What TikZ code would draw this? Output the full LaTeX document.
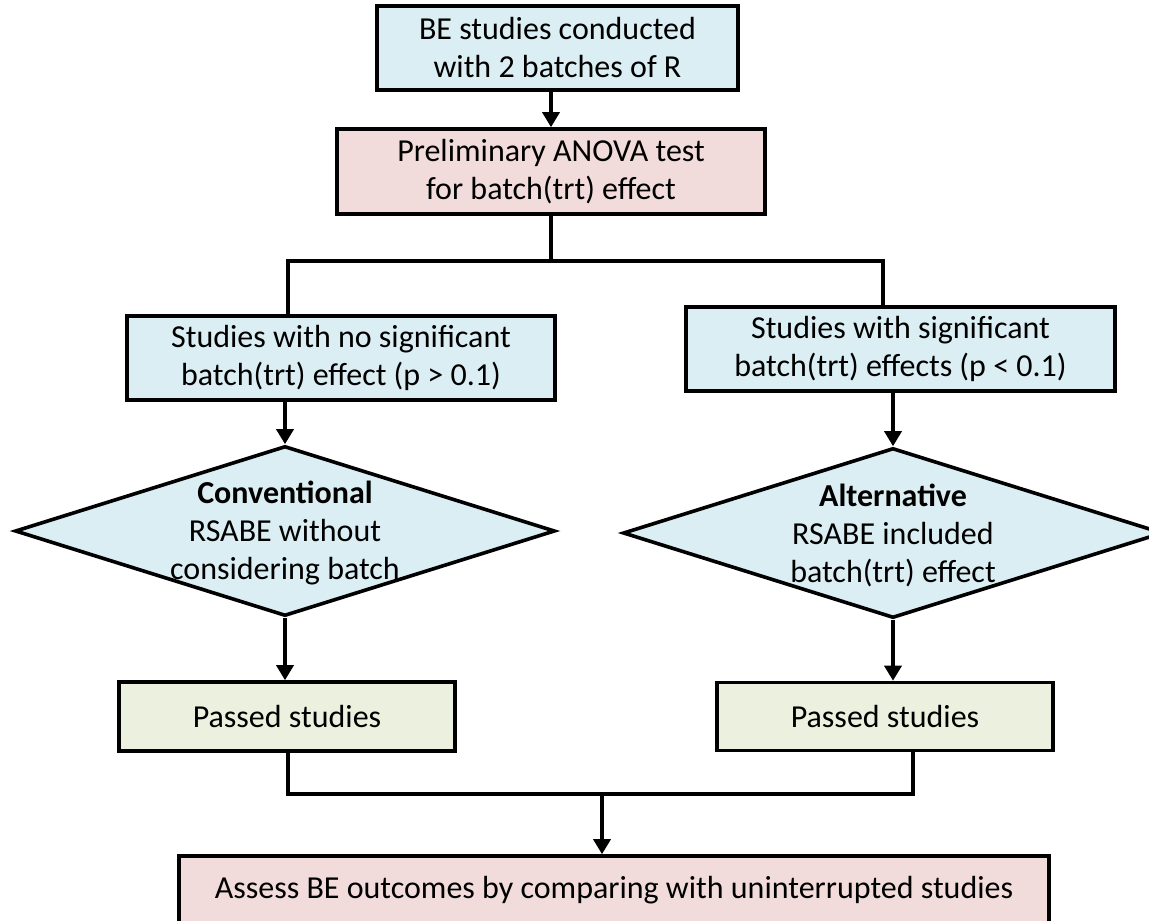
\documentclass[tikz,border=0pt]{standalone}
\usepackage{fontspec}
\setmainfont{Carlito}
\usetikzlibrary{arrows.meta,shapes.geometric}
\definecolor{beblue}{HTML}{DAEEF3}
\definecolor{bepink}{HTML}{F2DCDB}
\definecolor{begreen}{HTML}{EBF1DE}
\begin{document}
\begin{tikzpicture}[x=1pt, y=-1pt,
	box/.style={draw=black, line width=3.6pt, rectangle, inner sep=0pt, align=center, font=\fontsize{32}{38}\selectfont},
	dia/.style={draw=black, line width=3.6pt, diamond, fill=beblue, inner sep=0pt, minimum width=540pt, minimum height=170pt},
	diatext/.style={align=center, inner sep=0pt, font=\fontsize{32}{38}\selectfont},
	flow/.style={black, line width=3.4pt},
	flowarr/.style={flow, -{Triangle[width=17pt,length=15pt]}}]
\useasboundingbox (0,0) rectangle (1149,921);
\node[box, fill=beblue, minimum width=361pt, minimum height=84pt] (start) at (557.5,48) {BE studies conducted\\with 2 batches of R};
\node[box, fill=bepink, minimum width=428pt, minimum height=85pt] (anova) at (551,171.5) {Preliminary ANOVA test\\for batch(trt) effect};
\node[box, fill=beblue, minimum width=428pt, minimum height=84pt] (nosig) at (341,358) {Studies with no significant\\batch(trt) effect (p > 0.1)};
\node[box, fill=beblue, minimum width=429pt, minimum height=84pt] (sig) at (900.5,349) {Studies with significant\\batch(trt) effects (p < 0.1)};
\node[dia] (conv) at (285,531) {};
\node[diatext] (convtext) at (285,533) {\textbf{Conventional}\\RSABE without\\considering batch};
\node[dia] (alt) at (893,533) {};
\node[diatext] (alttext) at (893,535) {\textbf{Alternative}\\RSABE included\\batch(trt) effect};
\node[box, fill=begreen, minimum width=336pt, minimum height=69pt] (passl) at (287,716.5) {Passed studies};
\node[box, fill=begreen, minimum width=336pt, minimum height=68pt] (passr) at (885,716.5) {Passed studies};
\node[box, fill=bepink, minimum width=870pt, minimum height=69pt] (assess) at (614,890.5) {Assess BE outcomes by comparing with uninterrupted studies};
\coordinate (forkl) at (288,261);
\coordinate (forkr) at (883,261);
\coordinate (joinl) at (288,794);
\coordinate (joinr) at (913,794);
\coordinate (join) at (602,794);
\draw[flowarr] (anova.north |- start.south) -- (anova.north);
\draw[flow] (anova.south) -- (anova.south |- forkl);
\draw[flow] (forkl |- nosig.north) -- (forkl) -- (forkr) -- (forkr |- sig.north);
\draw[flowarr] (conv.north |- nosig.south) -- (conv.north);
\draw[flowarr] (alt.north |- sig.south) -- (alt.north);
\draw[flowarr] (conv.south) -- (conv.south |- passl.north);
\draw[flowarr] (alt.south) -- (alt.south |- passr.north);
\draw[flow] (joinl |- passl.south) -- (joinl) -- (joinr) -- (joinr |- passr.south);
\draw[flowarr] (join) -- (join |- assess.north);
\end{tikzpicture}
\end{document}
